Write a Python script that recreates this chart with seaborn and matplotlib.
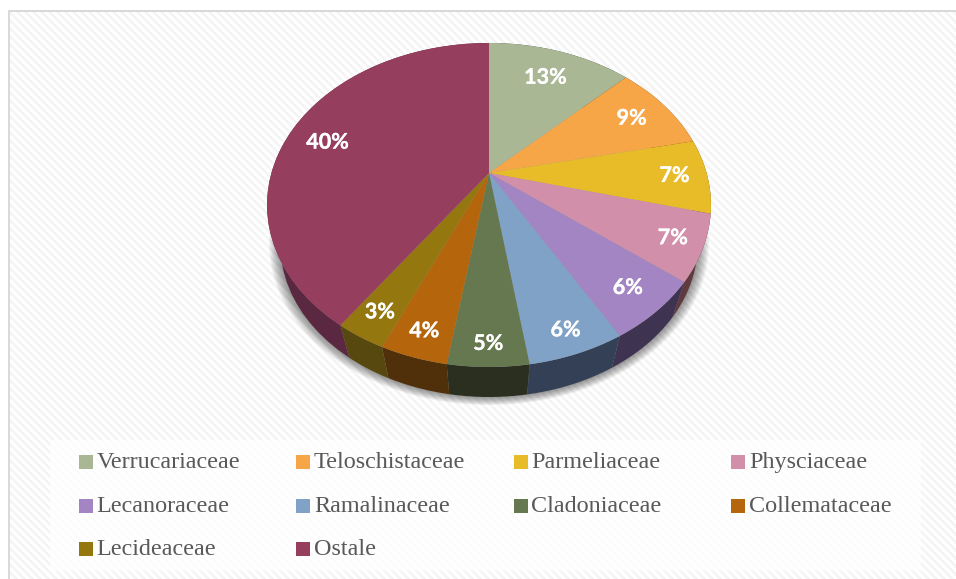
import numpy as np
import matplotlib
matplotlib.use('Agg')
import matplotlib.pyplot as plt
import matplotlib.patheffects as pe
from matplotlib.patches import Rectangle
from matplotlib.transforms import Transform
import seaborn as sns

# share of each family, %
families = ['Verrucariaceae', 'Teloschistaceae', 'Parmeliaceae', 'Physciaceae',
            'Lecanoraceae', 'Ramalinaceae', 'Cladoniaceae', 'Collemataceae',
            'Lecideaceae', 'Ostale']
shares = [12.7, 8.9, 7.4, 6.55, 6.15, 5.9, 4.9, 4.1, 3.1, 40.3]

top_colors = ['#a9b795', '#f7a647', '#e8bc28', '#d28fa9', '#a285c2',
              '#7fa2c6', '#66784f', '#b5660c', '#957710', '#963e5e']
wall_colors = ['#4c5343', '#6f4a20', '#685412', '#5f3a3f', '#3f3352',
               '#334055', '#2a2f1f', '#50300a', '#57480f', '#5a2840']
label_radius = [.76, .8, .85, .87, .85, .89, .9, .88, .87, .8]
label_turn = [0, 0, 0, 0, 0, 0, 0, 0, 0, 2.5]


class Tilt(Transform):
    # pie disc seen from the front, far edge shorter than near edge
    input_dims = 2
    output_dims = 2

    def __init__(self, cx, cy, scale=1.0):
        super().__init__()
        self.cx, self.cy, self.scale = cx, cy, scale

    def transform_non_affine(self, values):
        values = np.asarray(values, dtype=float)
        w = 1 + 0.1975 * values[:, 1]
        x = self.cx + self.scale * 217.6 * values[:, 0] / w
        y = self.cy - self.scale * 155.7 * values[:, 1] / w
        return np.column_stack([x, y])


sns.set_theme(style='white')
fig = plt.figure(figsize=(9.56, 5.79), dpi=100)
ax = fig.add_axes([0, 0, 1, 1])

wedges, texts, autotexts = ax.pie(
    shares,
    colors=sns.color_palette(top_colors),
    startangle=90,
    counterclock=False,
    autopct=lambda p: '%.0f%%' % p,
    wedgeprops=dict(linewidth=0),
    textprops=dict(color='white', fontsize=15.5, fontweight='bold', family='Lato'),
)

top = Tilt(489, 173) + ax.transData
bottom = Tilt(489, 214.6, 0.94)

# shadow under the pie
ring = np.linspace(0, 2 * np.pi, 200)
rim = bottom.transform(np.column_stack([np.cos(ring), np.sin(ring)]))
for i in range(9, 0, -1):
    ax.fill(489 + (rim[:, 0] - 489) * (1 + i * 0.006),
            246 + (rim[:, 1] - 246) * (1 + i * 0.006),
            color='black', alpha=0.05, lw=0, zorder=0.3)

for wedge, text, wall, r, turn in zip(wedges, autotexts, wall_colors, label_radius, label_turn):
    wedge.set_transform(top)
    # side of the slice between the upper and lower rim
    a = np.radians(np.linspace(wedge.theta1, wedge.theta2, 40))
    arc = np.column_stack([np.cos(a), np.sin(a)])
    upper = Tilt(489, 173).transform(arc)
    lower = bottom.transform(arc)
    side = np.vstack([upper, lower[::-1]])
    ax.fill(side[:, 0], side[:, 1], color=wall, lw=0, zorder=0.5)
    # label position along the middle of the slice
    mid = np.radians((wedge.theta1 + wedge.theta2) / 2 + turn)
    text.set_transform(top)
    text.set_position((r * np.cos(mid), r * np.sin(mid)))
    text.set_zorder(4)
    text.set_path_effects([pe.withStroke(linewidth=0.2, foreground='white')])

# striped chart background
yy, xx = np.mgrid[0:579, 0:956]
stripes = np.where((xx - yy) % 8 < 4, 1.0, 0.96)
ax.imshow(stripes, cmap='gray', vmin=0, vmax=1, extent=(0, 956, 579, 0),
          interpolation='nearest', zorder=0)
ax.add_patch(Rectangle((0, 0), 956, 10, color='white', lw=0, zorder=0.1))
ax.add_patch(Rectangle((0, 0), 8, 579, color='white', lw=0, zorder=0.1))
ax.add_patch(Rectangle((8, 10), 948, 2, color='#d9d9d9', lw=0, zorder=0.1))
ax.add_patch(Rectangle((8, 10), 2, 569, color='#d9d9d9', lw=0, zorder=0.1))

# legend block, filled row by row
ax.add_patch(Rectangle((50, 440), 871, 131, color='white', alpha=0.8, lw=0, zorder=0.2))
for i, (name, color) in enumerate(zip(families, top_colors)):
    col, row = i % 4, i // 4
    x0 = 79 + col * 217.5
    y0 = 462 + row * 43.5
    ax.add_patch(Rectangle((x0, y0 - 7), 14, 14, color=color, lw=0, zorder=2))
    ax.text(x0 + 17.5, y0 + 0.5, name, family='Liberation Serif', fontsize=17.4,
            color='#595959', va='center', ha='left', zorder=2)

ax.set_aspect('auto')
ax.set_xlim(0, 956)
ax.set_ylim(579, 0)
ax.axis('off')
fig.savefig('out.png', dpi=100)
